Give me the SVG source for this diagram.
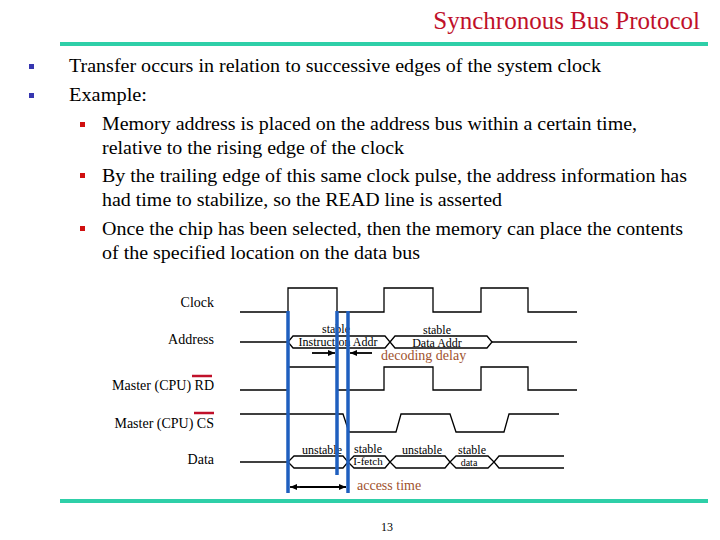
<svg xmlns="http://www.w3.org/2000/svg" width="720" height="540" viewBox="0 0 720 540">
<style>
text{font-family:"Liberation Serif",serif;fill:#000}
.b{font-size:18px}
.lab{font-size:14px}
.s{font-size:12px}
.br{fill:#a0522d}
.w{fill:none;stroke:#000;stroke-width:1.3}
.blue{stroke:#1f5fbf;stroke-width:3.5}
</style>
<defs>
<marker id="ah" markerWidth="8" markerHeight="8" refX="7" refY="4" orient="auto" markerUnits="userSpaceOnUse"><path d="M0,1 L7,4 L0,7z" fill="#000"/></marker>
</defs>
<rect width="720" height="540" fill="#fff"/>
<g id="title">
<text x="700" y="29" text-anchor="end" style="font-size:25px;fill:#c0102a">Synchronous Bus Protocol</text>
<rect x="60" y="42" width="648" height="4" fill="#2ecfa8"/>
<rect x="60" y="499" width="648" height="4" fill="#2ecfa8"/>
</g>
<g id="bullets">
<rect x="29" y="64" width="5" height="5" fill="#3636b0"/>
<rect x="29" y="93" width="5" height="5" fill="#3636b0"/>
<rect x="80" y="122" width="5" height="5" fill="#d01010"/>
<rect x="80" y="173" width="5" height="5" fill="#d01010"/>
<rect x="80" y="226" width="5" height="5" fill="#d01010"/>
<text class="b" x="69" y="72" textLength="532" lengthAdjust="spacingAndGlyphs">Transfer occurs in relation to successive edges of the system clock</text>
<text class="b" x="69" y="101" textLength="78" lengthAdjust="spacingAndGlyphs">Example:</text>
<text class="b" x="102" y="130" textLength="535" lengthAdjust="spacingAndGlyphs">Memory address is placed on the address bus within a certain time,</text>
<text class="b" x="102" y="154" textLength="302" lengthAdjust="spacingAndGlyphs">relative to the rising edge of the clock</text>
<text class="b" x="102" y="182" textLength="585" lengthAdjust="spacingAndGlyphs">By the trailing edge of this same clock pulse, the address information has</text>
<text class="b" x="102" y="206" textLength="400" lengthAdjust="spacingAndGlyphs">had time to stabilize, so the READ line is asserted</text>
<text class="b" x="102" y="235" textLength="581" lengthAdjust="spacingAndGlyphs">Once the chip has been selected, then the memory can place the contents</text>
<text class="b" x="102" y="259" textLength="318" lengthAdjust="spacingAndGlyphs">of the specified location on the data bus</text>
</g>
<g id="labels">
<text class="lab" x="214" y="307" text-anchor="end">Clock</text>
<text class="lab" x="214" y="344" text-anchor="end">Address</text>
<text class="lab" x="214" y="390" text-anchor="end">Master (CPU) RD</text>
<line x1="192" y1="376" x2="212" y2="376" stroke="#c0102a" stroke-width="2.5"/>
<text class="lab" x="214" y="428" text-anchor="end">Master (CPU) CS</text>
<line x1="194" y1="413" x2="214" y2="413" stroke="#c0102a" stroke-width="2.5"/>
<text class="lab" x="214" y="464" text-anchor="end">Data</text>
</g>
<g id="clock"><polyline class="w" points="240,312 288,312 288,288 337,288 337,312 384,312 384,288 433,288 433,312 481,312 481,288 528,288 528,312 577,312"/></g>
<g id="rd"><polyline class="w" points="240,390 288,390 288,367 337,367 337,390 384,390 384,367 433,367 433,390 481,390 481,367 528,367 528,390 577,390"/></g>
<g id="cs"><polyline class="w" points="240,414 343,414 349,432 396,432 401,414 450,414 456,432 504,432 509,414 559,414"/></g>
<g id="address">
<line class="w" x1="240" y1="342" x2="288" y2="342"/>
<polygon class="w" points="288,342 293,336 385,336 390,342 385,348 293,348"/>
<polygon class="w" points="390,342 395,336 487,336 492,342 487,348 395,348"/>
<line class="w" x1="492" y1="342" x2="577" y2="342"/>
<text class="s" x="336" y="333" text-anchor="middle">stable</text>
<text class="s" x="338" y="346" text-anchor="middle">Instruction Addr</text>
<text class="s" x="437" y="334" text-anchor="middle">stable</text>
<text class="s" x="437" y="347" text-anchor="middle">Data Addr</text>
<text class="lab br" x="381" y="360">decoding delay</text>
</g>
<g id="data">
<line class="w" x1="240" y1="462" x2="288" y2="462"/>
<polygon class="w" points="288,462 294,456 343,456 348,462 343,468 294,468"/>
<polygon class="w" points="348,462 354,456 385,456 390,462 385,468 354,468"/>
<polygon class="w" points="390,462 396,456 445,456 450,462 445,468 396,468"/>
<polygon class="w" points="450,462 456,456 488,456 494,462 488,468 456,468"/>
<polyline class="w" points="564,456 499,456 494,462 499,468 564,468"/>
<text class="s" x="322" y="454" text-anchor="middle">unstable</text>
<text class="s" x="368" y="453" text-anchor="middle">stable</text>
<text class="s" x="368" y="465" text-anchor="middle" style="font-size:11px">I-fetch</text>
<text class="s" x="422" y="454" text-anchor="middle">unstable</text>
<text class="s" x="472" y="454" text-anchor="middle">stable</text>
<text class="s" x="469" y="466" text-anchor="middle" style="font-size:10px">data</text>
<text class="lab br" x="357" y="490">access time</text>
</g>
<g id="connectors">
<line class="blue" x1="288" y1="311" x2="288" y2="493"/>
<line class="blue" x1="337" y1="311" x2="337" y2="475"/>
<line class="blue" x1="348" y1="311" x2="348" y2="493"/>
<line x1="312" y1="353" x2="335" y2="353" stroke="#000" stroke-width="1.8" marker-end="url(#ah)"/>
<line x1="372" y1="353" x2="350" y2="353" stroke="#000" stroke-width="1.8" marker-end="url(#ah)"/>
<line x1="300" y1="487" x2="346" y2="487" stroke="#000" stroke-width="1.8" marker-end="url(#ah)"/>
<line x1="300" y1="487" x2="290" y2="487" stroke="#000" stroke-width="1.8" marker-end="url(#ah)"/>
</g>
<text x="387" y="531" text-anchor="middle" style="font-size:12px">13</text>
</svg>
